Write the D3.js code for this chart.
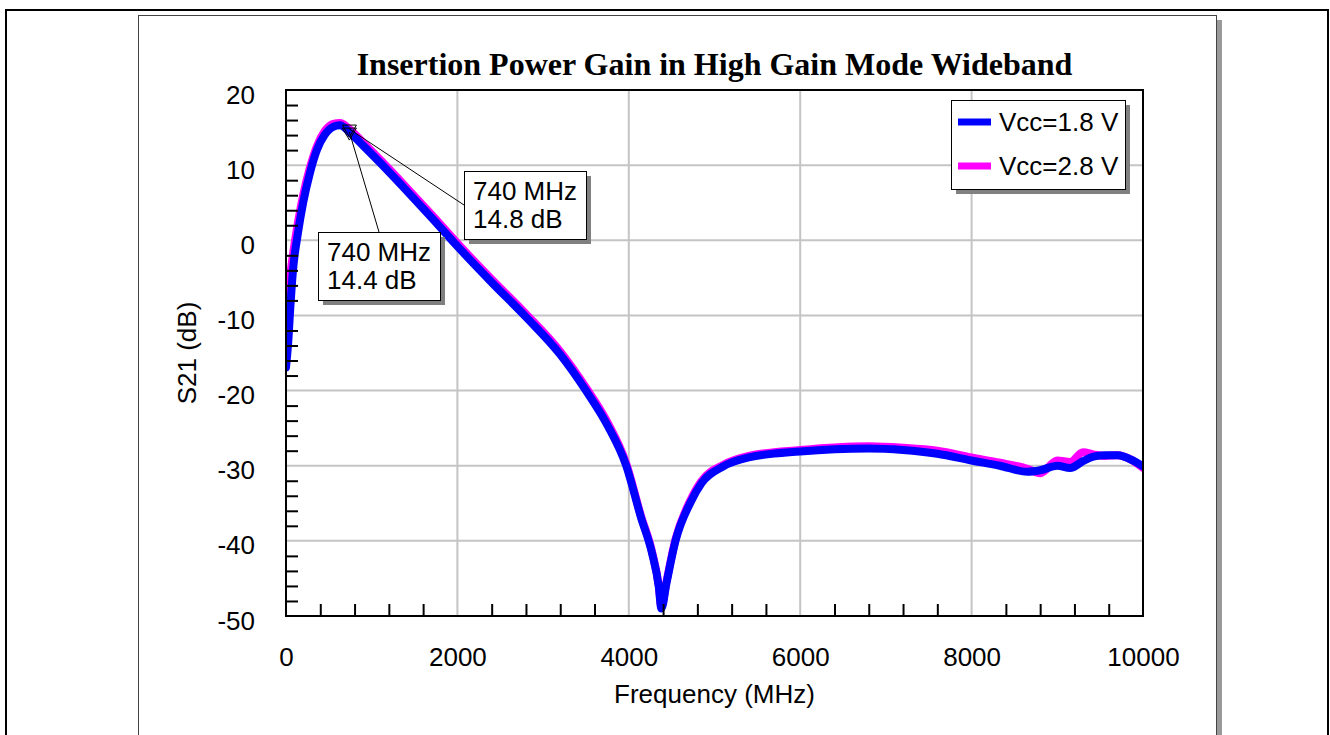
<!DOCTYPE html>
<html>
<head>
<meta charset="utf-8">
<script src="https://cdn.jsdelivr.net/npm/d3@7"></script>
<style>
  body { margin: 0; background: #fff; }
  svg { display: block; }
  text { font-family: "Liberation Sans", Arial, sans-serif; fill: #000; }
</style>
</head>
<body>
<div id="chart"></div>
<script>
// data
const freq = [0, 25, 50, 80, 140, 200, 280, 360, 450, 550, 630, 740, 900, 1100, 1400, 1700,
  2000, 2400, 2800, 3200, 3500, 3750, 3970, 4140, 4270, 4350, 4380, 4440, 4545, 4715, 4850,
  5100, 5400, 6000, 6800, 7200, 7600, 8000, 8330, 8650, 8800, 9000, 9150, 9300, 9420, 9550,
  9700, 9880, 10000];

const vcc18 = [-16.9, -13.7, -9.0, -4.2, 1.0, 5.0, 9.0, 12.0, 14.0, 15.1, 15.3, 14.4, 12.6, 10.3, 6.7, 3.0,
  -0.8, -5.6, -10.2, -15.2, -20.0, -24.6, -30.0, -36.8, -41.6, -46.1, -49.0, -45.6, -40.0, -35.0, -32.3,
  -30.1, -28.9, -28.1, -27.7, -27.9, -28.4, -29.3, -30.0, -30.8, -30.6, -30.0, -30.3, -29.4, -28.8, -28.6,
  -28.6, -29.3, -30.1];

const vcc28 = [-8.6, -6.8, -4.5, -2.0, 2.4, 6.0, 9.7, 12.5, 14.5, 15.5, 15.6, 14.8, 13.0, 10.7, 7.1, 3.4,
  -0.4, -5.2, -9.8, -14.8, -19.6, -24.2, -29.7, -36.6, -41.4, -46.0, -48.8, -45.4, -39.8, -34.7, -32.0,
  -29.9, -28.7, -27.9, -27.4, -27.6, -28.0, -28.9, -29.6, -30.4, -31.0, -29.3, -29.5, -28.2, -28.5, -28.7,
  -28.6, -29.3, -30.3];

const seriesNames = ["Vcc=1.8 V", "Vcc=2.8 V"];
const seriesColors = ["#0000ff", "#ff00ff"];

const xMajor = [0, 2000, 4000, 6000, 8000, 10000];
const yMajor = [-50, -40, -30, -20, -10, 0, 10, 20];
const xMinor = d3.range(0, 10001, 400).filter(v => v % 2000 !== 0);
const yMinor = d3.range(-50, 21, 2).filter(v => v % 10 !== 0);

const markFreq = [740, 740];
const markGain = [14.8, 14.4];
const markText = [["740 MHz", "14.8 dB"], ["740 MHz", "14.4 dB"]];

// layout
const W = 1330, H = 735;
const margin = { top: 90, left: 286 },
      width = 857,
      height = 526;

const svg = d3.select("#chart").append("svg")
    .attr("width", W)
    .attr("height", H);

// outer frame and chart panel
svg.append("rect")
    .attr("x", 6).attr("y", 10).attr("width", 1322).attr("height", 740)
    .attr("fill", "none").attr("stroke", "#000").attr("stroke-width", 2);

svg.append("rect")
    .attr("x", 143).attr("y", 20).attr("width", 1079).attr("height", 740)
    .attr("fill", "#9a9a9a");
svg.append("rect")
    .attr("x", 138.5).attr("y", 15.5).attr("width", 1078).attr("height", 740)
    .attr("fill", "#fff").attr("stroke", "#444").attr("stroke-width", 1);

// title
svg.append("text")
    .attr("x", margin.left + width / 2)
    .attr("y", 75)
    .attr("text-anchor", "middle")
    .style("font-family", "'Liberation Serif', 'Times New Roman', serif")
    .style("font-weight", "bold")
    .style("font-size", "32px")
    .text("Insertion Power Gain in High Gain Mode Wideband");

const g = svg.append("g")
    .attr("transform", `translate(${margin.left},${margin.top})`);

// scales
const x = d3.scaleLinear().domain([0, 10000]).range([0, width]);
const y = d3.scaleLinear().domain([-50, 20]).range([height, 0]);

// grid
g.append("g")
    .selectAll("line")
    .data(xMajor.slice(1, -1))
    .enter().append("line")
    .attr("x1", d => x(d)).attr("x2", d => x(d))
    .attr("y1", 0).attr("y2", height)
    .attr("stroke", "#c4c4c4").attr("stroke-width", 2);

g.append("g")
    .selectAll("line")
    .data(yMajor.slice(1, -1))
    .enter().append("line")
    .attr("y1", d => y(d)).attr("y2", d => y(d))
    .attr("x1", 0).attr("x2", width)
    .attr("stroke", "#c4c4c4").attr("stroke-width", 2);

// curves
g.append("clipPath").attr("id", "clip")
    .append("rect").attr("width", width).attr("height", height);

const line = vals => d3.line()
    .x((d, i) => x(freq[i]))
    .y((d, i) => y(vals[i]))
    .curve(d3.curveMonotoneX)(vals);

const plot = g.append("g").attr("clip-path", "url(#clip)");
[vcc28, vcc18].forEach((vals, k) => {
    plot.append("path")
        .attr("d", line(vals))
        .attr("fill", "none")
        .attr("stroke", k === 0 ? seriesColors[1] : seriesColors[0])
        .attr("stroke-width", 8)
        .attr("stroke-linejoin", "round")
        .attr("stroke-linecap", "round");
});

// frame
g.append("rect")
    .attr("width", width).attr("height", height)
    .attr("fill", "none").attr("stroke", "#000").attr("stroke-width", 2);

// minor ticks
g.append("g")
    .call(d3.axisLeft(y).tickValues(yMinor).tickSize(-12).tickFormat(""))
    .call(a => a.select(".domain").remove())
    .selectAll("line").attr("stroke", "#000").attr("stroke-width", 2);

g.append("g")
    .attr("transform", `translate(0,${height})`)
    .call(d3.axisBottom(x).tickValues(xMinor).tickSize(-12).tickFormat(""))
    .call(a => a.select(".domain").remove())
    .selectAll("line").attr("stroke", "#000").attr("stroke-width", 2);

// tick labels
const yAxis = g.append("g")
    .call(d3.axisLeft(y).tickValues(yMajor).tickSize(0).tickPadding(31).tickFormat(d => String(d)))
    .call(a => a.select(".domain").remove());
yAxis.selectAll("text")
    .attr("dy", "0.5em")
    .style("font-size", "26px")
    .style("font-family", "'Liberation Sans', Arial, sans-serif");

const xAxis = g.append("g")
    .attr("transform", `translate(0,${height})`)
    .call(d3.axisBottom(x).tickValues(xMajor).tickSize(0).tickPadding(32).tickFormat(d => String(d)))
    .call(a => a.select(".domain").remove());
xAxis.selectAll("text")
    .style("font-size", "26px")
    .style("font-family", "'Liberation Sans', Arial, sans-serif");

// axis titles
g.append("text")
    .attr("x", width / 2)
    .attr("y", height + 87)
    .attr("text-anchor", "middle")
    .style("font-size", "26px")
    .text("Frequency (MHz)");

g.append("text")
    .attr("transform", "rotate(-90)")
    .attr("x", -height / 2)
    .attr("y", -90)
    .attr("text-anchor", "middle")
    .style("font-size", "26px")
    .text("S21 (dB)");

// marker callouts
const boxes = [
    { x: 464 - margin.left, y: 171 - margin.top, w: 122, h: 68, ax: 0, ay: 34 },
    { x: 318 - margin.left, y: 232 - margin.top, w: 122, h: 68, ax: 61, ay: 0 }
];

markFreq.forEach((f, i) => {
    const px = x(f), py = y(markGain[i]);
    const b = boxes[i];

    g.append("line")
        .attr("x1", px).attr("y1", py)
        .attr("x2", b.x + b.ax).attr("y2", b.y + b.ay)
        .attr("stroke", "#000").attr("stroke-width", 1);

    g.append("path")
        .attr("d", `M${px - 7},${py - 4}L${px + 7},${py - 4}L${px},${py + 8}Z`)
        .attr("fill", "none").attr("stroke", "#000").attr("stroke-width", 1);
});

markFreq.forEach((f, i) => {
    const b = boxes[i];
    g.append("rect")
        .attr("x", b.x + 5).attr("y", b.y + 5).attr("width", b.w).attr("height", b.h)
        .attr("fill", "#808080");
    g.append("rect")
        .attr("x", b.x + 0.5).attr("y", b.y + 0.5).attr("width", b.w).attr("height", b.h)
        .attr("fill", "#fff").attr("stroke", "#000").attr("stroke-width", 1);
    markText[i].forEach((t, j) => {
        g.append("text")
            .attr("x", b.x + 9)
            .attr("y", b.y + 29 + j * 28)
            .style("font-size", "26px")
            .text(t);
    });
});

// legend
const lg = svg.append("g").attr("transform", "translate(951,100)");
lg.append("rect")
    .attr("x", 5).attr("y", 5).attr("width", 174).attr("height", 89)
    .attr("fill", "#808080");
lg.append("rect")
    .attr("x", 0.5).attr("y", 0.5).attr("width", 174).attr("height", 89)
    .attr("fill", "#fff").attr("stroke", "#000").attr("stroke-width", 1);

seriesNames.forEach((name, i) => {
    const row = lg.append("g").attr("transform", `translate(0,${22 + i * 44})`);
    row.append("line")
        .attr("x1", 7).attr("x2", 40)
        .attr("stroke", seriesColors[i]).attr("stroke-width", 7);
    row.append("text")
        .attr("x", 48).attr("y", 9)
        .style("font-size", "26px")
        .text(name);
});
</script>
</body>
</html>
